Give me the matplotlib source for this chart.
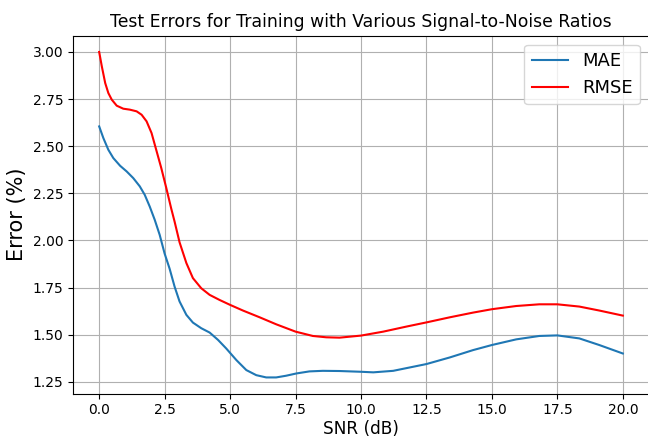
import matplotlib
matplotlib.use('Agg')
import matplotlib.pyplot as plt

# values
snr_mae = [0.0, 0.16, 0.35, 0.54, 0.80, 1.05, 1.30, 1.55, 1.74, 1.93, 2.12,
           2.31, 2.5, 2.69, 2.88, 3.07, 3.33, 3.58, 3.9, 4.22, 4.54, 4.85,
           5.24, 5.62, 6.0, 6.38, 6.76, 7.14, 7.53, 8.03, 8.54, 9.18, 10.0,
           10.47, 11.23, 12.5, 13.39, 14.28, 15.0, 15.93, 16.81, 17.5, 18.34,
           19.1, 20.0]
mae = [2.605, 2.543, 2.481, 2.437, 2.396, 2.366, 2.331, 2.287, 2.242, 2.18,
       2.11, 2.03, 1.93, 1.85, 1.755, 1.676, 1.605, 1.564, 1.534, 1.511,
       1.472, 1.427, 1.365, 1.312, 1.285, 1.273, 1.273, 1.282, 1.294, 1.305,
       1.308, 1.307, 1.303, 1.30, 1.308, 1.344, 1.379, 1.418, 1.445, 1.475,
       1.493, 1.496, 1.48, 1.445, 1.40]

snr_rmse = [0.0, 0.10, 0.23, 0.35, 0.48, 0.67, 0.92, 1.17, 1.43, 1.62, 1.81,
            2.0, 2.18, 2.37, 2.56, 2.75, 2.88, 3.07, 3.33, 3.58, 3.9, 4.22,
            4.6, 5.0, 5.49, 6.13, 6.76, 7.5, 8.16, 8.67, 9.18, 10.0, 10.85,
            11.74, 12.5, 13.39, 14.28, 15.0, 15.93, 16.81, 17.5, 18.34, 19.1,
            20.0]
rmse = [3.0, 2.924, 2.835, 2.782, 2.747, 2.715, 2.699, 2.694, 2.685, 2.667,
        2.632, 2.57, 2.48, 2.385, 2.28, 2.17, 2.10, 1.99, 1.88, 1.80, 1.746,
        1.711, 1.684, 1.658, 1.628, 1.592, 1.555, 1.516, 1.493, 1.486, 1.484,
        1.495, 1.516, 1.543, 1.565, 1.592, 1.617, 1.635, 1.652, 1.661, 1.661,
        1.649, 1.628, 1.601]

fig = plt.figure(figsize=(6.48, 4.37), dpi=100)
ax = fig.add_axes([73 / 648, 43.3 / 437, 576 / 648, 358 / 437])

ax.plot(snr_mae, mae, label='MAE', color='#1f77b4')
ax.plot(snr_rmse, rmse, label='RMSE', color='red')

ax.set_title('Test Errors for Training with Various Signal-to-Noise Ratios', fontsize=12.4)
ax.set_xlabel('SNR (dB)', fontsize=12.2, labelpad=2)
ax.set_ylabel('Error (%)', fontsize=15)
ax.grid(True)
ax.legend(loc='upper right', fontsize=13)

fig.savefig('out.png', dpi=100)
